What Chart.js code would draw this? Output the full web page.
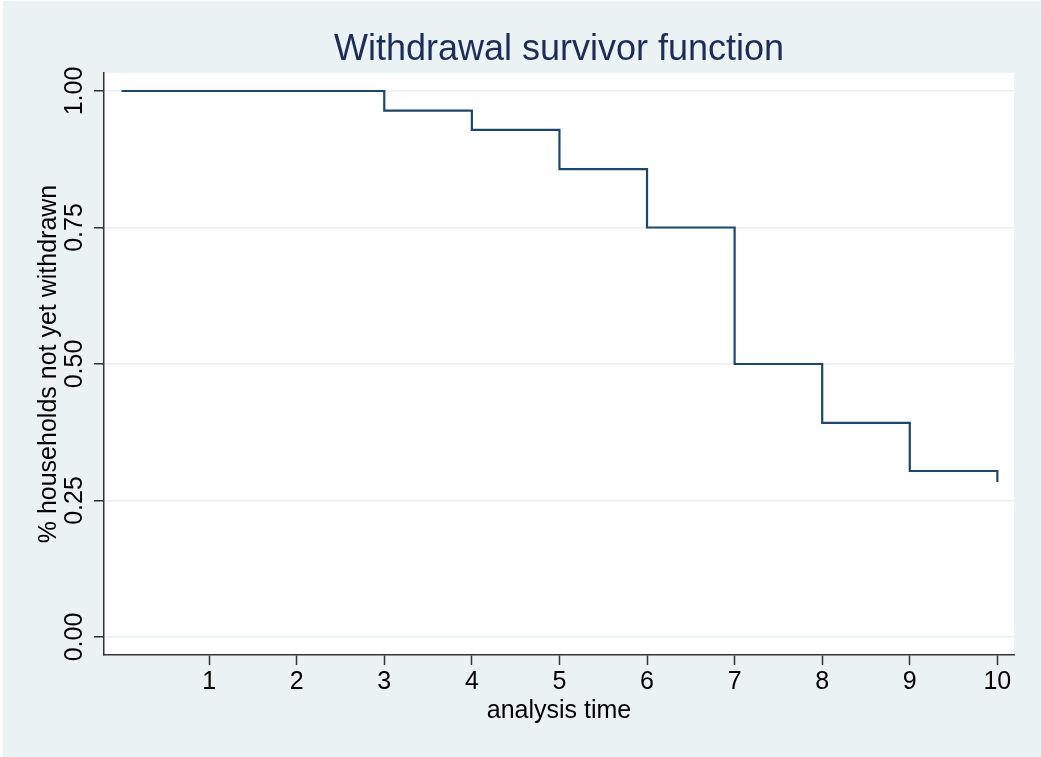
<!DOCTYPE html>
<html lang="en">
<head>
<meta charset="UTF-8">
<title>Withdrawal survivor function</title>
<style>
  html,body{margin:0;padding:0;background:#fff}
  #wrap{width:1041px;height:757px}
</style>
</head>
<body>
<div id="wrap"><canvas id="km"></canvas></div>
<script src="https://cdn.jsdelivr.net/npm/chart.js"></script>
<script>
// survival times and estimated survivor function
const times = [0, 3, 4, 5, 6, 7, 8, 9, 10]
const survival = [1.0, 0.964, 0.929, 0.857, 0.75, 0.5, 0.392, 0.304, 0.284]
const xTicks = [1, 2, 3, 4, 5, 6, 7, 8, 9, 10]
const yTicks = [0, 0.25, 0.5, 0.75, 1.0]
const yTickLabels = ['0.00', '0.25', '0.50', '0.75', '1.00']

const FONT = '"Liberation Sans", Arial, Helvetica, sans-serif'
const bgColor = '#eaf2f3'
const lineColor = '#1a476f'
const axisColor = '#333333'

// outer grey-blue background + white plot region
const backdrop = {
  id: 'backdrop',
  beforeDraw(chart) {
    const {ctx, chartArea: a} = chart
    ctx.save()
    ctx.fillStyle = bgColor
    ctx.fillRect(3, 1, chart.width - 3, chart.height - 1)
    ctx.fillStyle = '#ffffff'
    ctx.fillRect(a.left, a.top, a.right - a.left, a.bottom - a.top)
    ctx.restore()
  }
}

// Stata draws the y tick labels turned on their side
const sideLabels = {
  id: 'sideLabels',
  afterDraw(chart) {
    const ctx = chart.ctx
    const y = chart.scales.y
    ctx.save()
    ctx.font = '25px ' + FONT
    ctx.fillStyle = '#000'
    ctx.textAlign = 'center'
    ctx.textBaseline = 'middle'
    yTicks.forEach((v, i) => {
      const py = y.getPixelForValue(v)
      ctx.save()
      ctx.translate(y.right - 29, py)
      ctx.rotate(-Math.PI / 2)
      ctx.fillText(yTickLabels[i], 0, 0)
      ctx.restore()
    })
    ctx.restore()
  }
}

const points = times.map((t, i) => ({x: t, y: survival[i]}))

new Chart(document.getElementById('km'), {
  type: 'line',
  data: {
    datasets: [{
      data: points,
      stepped: true,
      borderColor: lineColor,
      borderWidth: 2.2,
      pointRadius: 0,
      fill: false
    }]
  },
  options: {
    responsive: true,
    maintainAspectRatio: false,
    animation: false,
    devicePixelRatio: 1,
    layout: {padding: {left: 0, right: 27, top: 0, bottom: 0}},
    plugins: {
      legend: {display: false},
      tooltip: {enabled: false},
      title: {
        display: true,
        text: 'Withdrawal survivor function',
        fullSize: false,
        color: '#1c2d57',
        font: {family: FONT, size: 36, weight: 'normal'},
        padding: {top: 28.5, bottom: 1.3}
      }
    },
    scales: {
      x: {
        type: 'linear',
        min: -0.2,
        max: 10.19,
        afterBuildTicks: s => { s.ticks = xTicks.map(v => ({value: v})) },
        afterFit: s => { s.height = 102 },
        grid: {drawOnChartArea: false, drawTicks: true, tickLength: 10, tickColor: axisColor, tickWidth: 1.5},
        border: {color: axisColor, width: 1.5},
        ticks: {
          color: '#000',
          font: {family: FONT, size: 25},
          padding: 2,
          maxRotation: 0,
          callback: v => String(v)
        },
        title: {
          display: true,
          text: 'analysis time',
          color: '#000',
          font: {family: FONT, size: 25},
          padding: {top: 0, bottom: 31}
        }
      },
      y: {
        type: 'linear',
        min: -0.033,
        max: 1.033,
        afterBuildTicks: s => { s.ticks = yTicks.map(v => ({value: v})) },
        afterFit: s => { s.width = 104 },
        grid: {color: '#e8eff1', lineWidth: 1.5, drawTicks: true, tickLength: 10, tickColor: axisColor, tickWidth: 1.5},
        border: {color: axisColor, width: 1.5},
        ticks: {display: false},
        title: {
          display: true,
          text: '% households not yet withdrawn',
          color: '#000',
          font: {family: FONT, size: 25},
          padding: {top: 34, bottom: 0}
        }
      }
    }
  },
  plugins: [backdrop, sideLabels]
})
</script>
</body>
</html>
